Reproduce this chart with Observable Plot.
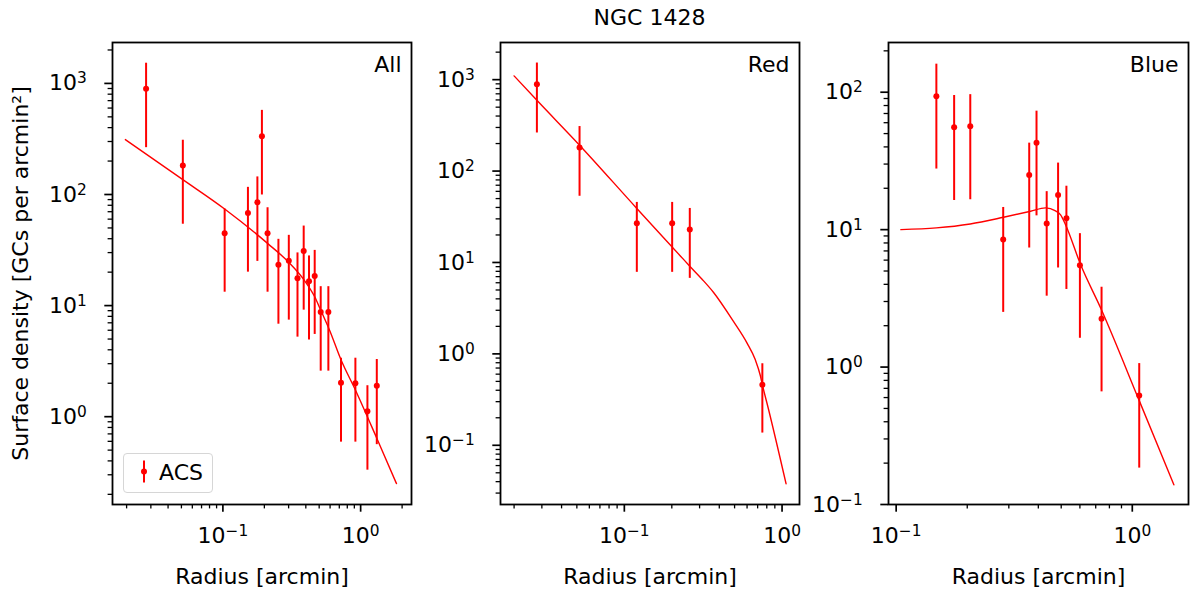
<!DOCTYPE html>
<html>
<head>
<meta charset="utf-8">
<script src="https://cdn.jsdelivr.net/npm/d3@7"></script>
<script src="https://cdn.jsdelivr.net/npm/@observablehq/plot@0.6"></script>
<style>
  body { margin: 0; background: white; font-family: "DejaVu Sans", sans-serif; }
  #chart { position: relative; width: 1200px; height: 592px; }
  #chart svg { position: absolute; top: 0; }
</style>
</head>
<body>
<div id="chart">
  <svg id="title" width="1200" height="40" style="left:0">
    <text x="649.5" y="25" text-anchor="middle" font-size="22" font-family="DejaVu Sans">NGC 1428</text>
  </svg>
</div>
<script>
// All GCs
const allR  = [0.0277, 0.0512, 0.103, 0.152, 0.178, 0.192, 0.211, 0.253, 0.301, 0.348, 0.386, 0.422, 0.464, 0.513, 0.583, 0.72, 0.916, 1.12, 1.31];
const allV  = [896, 182, 44.7, 68, 85, 334, 44.7, 23.3, 25.3, 17.6, 31, 16.6, 18.5, 8.75, 8.75, 2.02, 2.0, 1.12, 1.9];
const allHi = [1520, 308, 74, 116, 144, 572, 76, 39.5, 42.9, 29.8, 52, 28, 31.4, 14.8, 14.8, 3.36, 3.36, 1.9, 3.27];
const allLo = [264, 54, 13.2, 20, 25, 99, 13.2, 6.8, 7.4, 5.2, 9.1, 4.9, 5.5, 2.57, 2.57, 0.59, 0.59, 0.33, 0.56];
const allFitR = [0.0196, 0.0512, 0.103, 0.211, 0.301, 0.386, 0.464, 0.513, 0.595, 0.72, 0.916, 1.31, 1.82];
const allFitV = [312, 136, 74, 36.3, 24.5, 17.2, 12, 9.1, 6.0, 3.25, 1.74, 0.64, 0.25];

// Red GCs
const redR  = [0.0279, 0.052, 0.12, 0.201, 0.26, 0.75];
const redV  = [890, 181, 26.8, 26.8, 23, 0.46];
const redHi = [1520, 307, 45.4, 45.4, 39, 0.78];
const redLo = [261, 53, 7.8, 7.8, 6.7, 0.136];
const redFitR = [0.02, 0.0279, 0.052, 0.12, 0.2265, 0.26, 0.31, 0.368, 0.493, 0.6, 0.677, 0.728, 0.75, 0.822, 1.06];
const redFitV = [1100, 594, 192, 39, 11.8, 9.1, 6.6, 4.7, 2.25, 1.31, 0.86, 0.58, 0.46, 0.245, 0.038];

// Blue GCs
const blueR  = [0.148, 0.176, 0.206, 0.284, 0.366, 0.393, 0.434, 0.485, 0.526, 0.6, 0.741, 1.07];
const blueV  = [93.5, 55.7, 56.6, 8.46, 25, 42.9, 11.1, 17.9, 12.1, 5.5, 2.25, 0.62];
const blueHi = [160, 94.6, 96, 14.5, 42.6, 72.8, 18.9, 30.5, 20.7, 9.35, 3.81, 1.06];
const blueLo = [27.6, 16.3, 16.5, 2.5, 7.35, 12.6, 3.28, 5.26, 3.67, 1.62, 0.66, 0.184];
const blueFitR = [0.1047, 0.148, 0.206, 0.285, 0.371, 0.429, 0.473, 0.497, 0.521, 0.604, 0.741, 1.07, 1.50];
const blueFitV = [10, 10.3, 11.0, 12.3, 13.6, 14.4, 13.7, 12.8, 10.9, 5.57, 2.6, 0.57, 0.139];

const panelNames = ["All", "Red", "Blue"];
const xTitle = "Radius [arcmin]";
const yTitle = "Surface density [GCs per arcmin²]";
const legendName = "ACS";

const rows = (r, v, lo, hi) => r.map((d, i) => ({r: d, v: v[i], lo: lo[i], hi: hi[i]}));
const curve = (r, v) => r.map((d, i) => ({r: d, v: v[i]}));

const sup = {"-": "⁻", "0": "⁰", "1": "¹", "2": "²", "3": "³", "4": "⁴"};
const unsup = Object.fromEntries(Object.entries(sup).map(([k, v]) => [v, k]));
const fmt = v => "10" + String(Math.round(Math.log10(v))).split("").map(c => sup[c]).join("");

function logTicks(dom) {
  const t = d3.scaleLog().domain(dom).ticks();
  const major = t.filter(v => Math.abs(Math.log10(v) - Math.round(Math.log10(v))) < 1e-9);
  const minor = t.filter(v => !major.includes(v));
  return {major, minor};
}

// turn "10⁻¹" into 10 + a raised, smaller exponent like matplotlib's mathtext
function mathTicks(svg) {
  d3.select(svg).selectAll("text").each(function() {
    const m = this.textContent.match(/^10([⁻⁰¹²³⁴]+)$/);
    if (!m) return;
    const exp = m[1].split("").map(c => unsup[c]).join("").replace("-", "−");
    this.textContent = "10";
    d3.select(this).append("tspan").attr("dy", "-7").attr("font-size", "15.4px").text(exp);
  });
}

function panel(o) {
  const xt = logTicks(o.xDomain);
  const yt = logTicks(o.yDomain);
  const chart = Plot.plot({
    width: o.width,
    height: 592,
    marginLeft: o.marginLeft,
    marginRight: o.marginRight,
    marginTop: 42,
    marginBottom: 88,
    style: {fontFamily: "DejaVu Sans", fontSize: "22px", color: "black", background: "transparent", overflow: "visible"},
    x: {type: "log", domain: o.xDomain},
    y: {type: "log", domain: o.yDomain},
    marks: [
      Plot.axisX(xt.minor, {tickSize: 4.4, strokeWidth: 1.3, tickFormat: () => "", label: null}),
      Plot.axisX(xt.major, {tickSize: 7.7, strokeWidth: 1.7, tickPadding: 15, tickFormat: fmt,
        label: xTitle, labelAnchor: "center", labelArrow: "none", labelOffset: 79}),
      Plot.axisY(yt.minor, {tickSize: 4.4, strokeWidth: 1.3, tickFormat: () => "", label: null}),
      Plot.axisY(yt.major, {tickSize: 7.7, strokeWidth: 1.7, tickPadding: 18, tickFormat: fmt,
        label: o.yLabel ? yTitle : null, labelAnchor: "center", labelArrow: "none", labelOffset: 100}),
      Plot.ruleX(o.data, {x: "r", y1: "lo", y2: "hi", stroke: "red", strokeWidth: 2}),
      Plot.dot(o.data, {x: "r", y: "v", r: 3, fill: "red"}),
      Plot.line(o.fit, {x: "r", y: "v", stroke: "red", strokeWidth: 1.4, curve: "monotone-x"}),
      Plot.text([o.name], {frameAnchor: "top-right", dx: -10, dy: 14, lineAnchor: "top", textAnchor: "end", fontSize: 22, fill: "black"}),
      Plot.frame({stroke: "black", strokeWidth: 1.8})
    ]
  });
  mathTicks(chart);
  chart.style.left = o.left + "px";
  return chart;
}

const chart = d3.select("#chart");

chart.append(() => panel({
  name: panelNames[0], data: rows(allR, allV, allLo, allHi), fit: curve(allFitR, allFitV),
  xDomain: [0.0158, 2.34], yDomain: [0.162, 2335],
  left: 0, width: 420, marginLeft: 112, marginRight: 9, yLabel: true
}));
chart.append(() => panel({
  name: panelNames[1], data: rows(redR, redV, redLo, redHi), fit: curve(redFitR, redFitV),
  xDomain: [0.0164, 1.29], yDomain: [0.0225, 2550],
  left: 420, width: 390, marginLeft: 80, marginRight: 11
}));
chart.append(() => panel({
  name: panelNames[2], data: rows(blueR, blueV, blueLo, blueHi), fit: curve(blueFitR, blueFitV),
  xDomain: [0.0928, 1.73], yDomain: [0.1, 230],
  left: 810, width: 390, marginLeft: 78, marginRight: 12
}));

// legend box in the first panel
const legend = chart.append("div")
  .style("position", "absolute").style("left", "123px").style("top", "453px")
  .style("width", "88px").style("height", "38px")
  .style("border", "1.3px solid #d6d6d6").style("border-radius", "4px")
  .style("background", "rgba(255,255,255,0.8)");
const lsvg = legend.append("svg").attr("width", 88).attr("height", 38).style("left", "0px");
lsvg.append("line").attr("x1", 20).attr("x2", 20).attr("y1", 6.5).attr("y2", 28.5).attr("stroke", "red").attr("stroke-width", 2);
lsvg.append("circle").attr("cx", 20).attr("cy", 17.5).attr("r", 3).attr("fill", "red");
lsvg.append("text").attr("x", 35).attr("y", 25.5).attr("font-size", 22).attr("font-family", "DejaVu Sans").text(legendName);
</script>
</body>
</html>
